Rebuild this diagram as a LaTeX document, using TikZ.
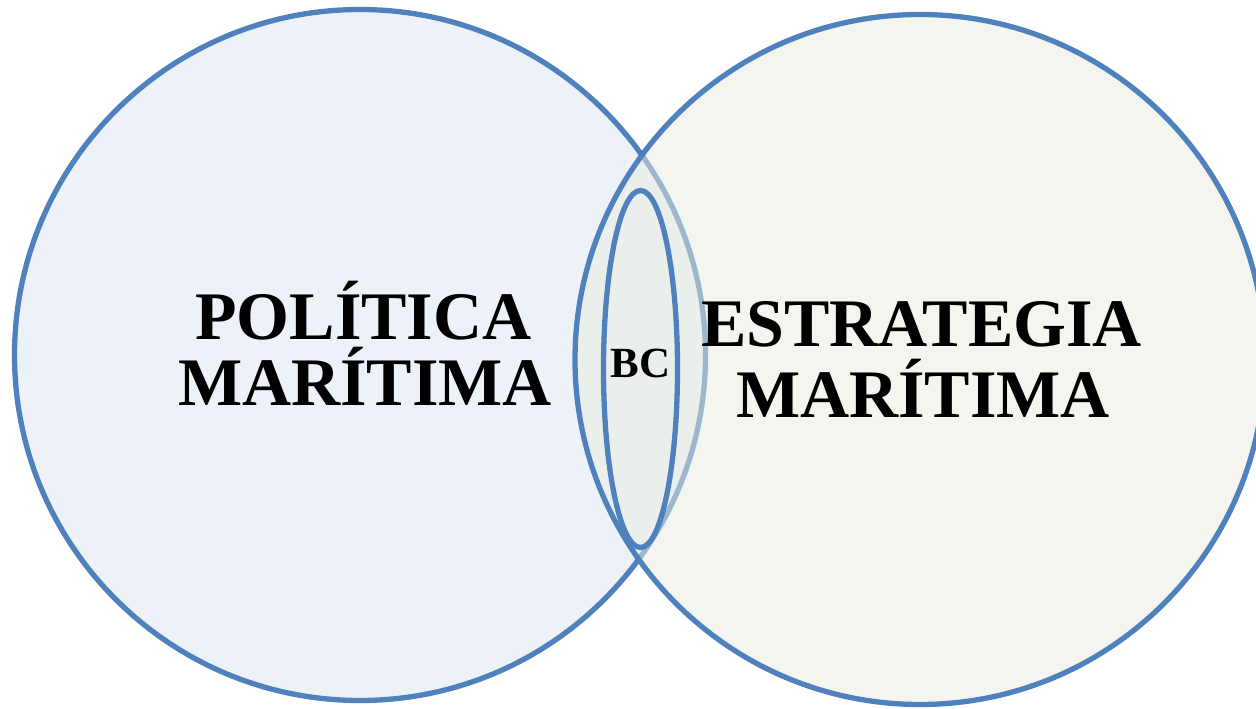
\documentclass[tikz,border=0pt]{standalone}
\usepackage{fontspec}
\setmainfont{Liberation Serif}
\definecolor{ringblue}{HTML}{4F81BD}
\definecolor{leftfill}{HTML}{EDF2F8}
\definecolor{rightfill}{HTML}{E9EDDF}
\tikzset{
  ring/.style={draw=ringblue, line width=5.3pt},
  bigtext/.style={anchor=base, inner sep=0pt, font=\fontsize{68}{68}\selectfont\bfseries},
  smalltext/.style={anchor=base, inner sep=0pt, font=\fontsize{43}{43}\selectfont\bfseries}
}
\begin{document}
\begin{tikzpicture}[x=1pt,y=1pt]
\useasboundingbox (0,0) rectangle (1256,709);
\fill[white] (0,0) rectangle (1256,709);
% left circle
\path[ring, fill=leftfill] (360,354) circle[radius=345.5];
% right circle, semi-transparent fill
\path[ring, fill=rightfill, fill opacity=0.5, draw opacity=1] (920,349.5) circle[radius=345];
% inner ellipse
\path[ring] (640.5,340) ellipse[x radius=37, y radius=178.5];
% texts
\node[bigtext] (pol1) at (363.5,369) {POLÍTICA};
\node[bigtext] (pol2) at (365,303.3) {MARÍTIMA};
\node[bigtext] (est1) at (921.5,362.3) {ESTRATEGIA};
\node[bigtext] (est2) at (923,291) {MARÍTIMA};
\node[smalltext] (bc) at (640.5,331) {BC};
\end{tikzpicture}
\end{document}
